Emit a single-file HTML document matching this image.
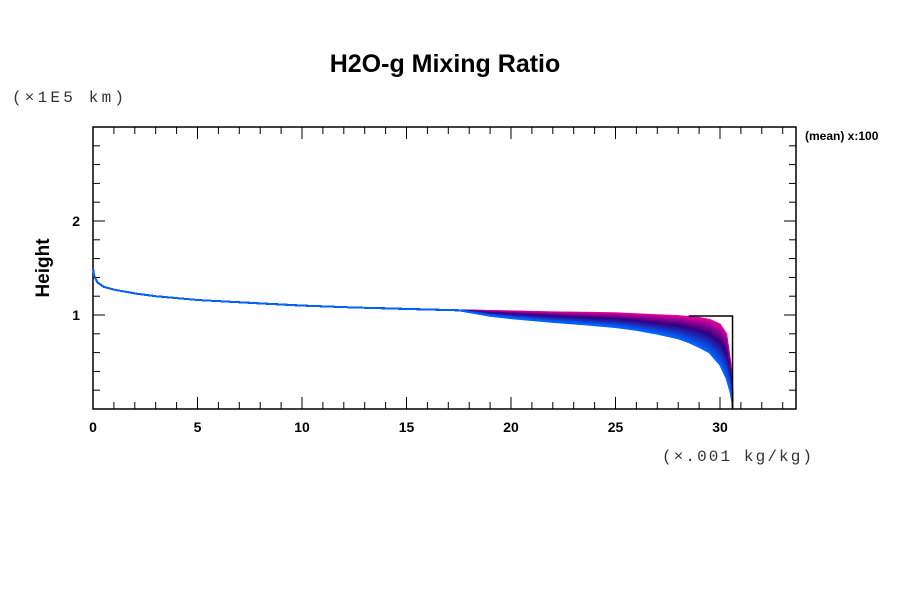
<!DOCTYPE html>
<html><head><meta charset="utf-8"><style>
body{margin:0;background:#fff;width:900px;height:600px;overflow:hidden}
svg{display:block}
text{font-family:"Liberation Sans",sans-serif}
text.mono{font-family:"Liberation Mono",monospace}
</style></head><body>
<svg id="chart" width="900" height="600">
<text x="445" y="72" text-anchor="middle" font-size="25" font-weight="bold">H2O-g Mixing Ratio</text>
<text class="mono" x="12" y="102" font-size="16" letter-spacing="3.2" fill="#333">(×1E5 km)</text>
<text class="mono" x="662" y="461" font-size="16" letter-spacing="2.1" fill="#333">(×.001 kg/kg)</text>
<text transform="translate(49,268) rotate(-90)" text-anchor="middle" font-size="19" font-weight="bold">Height</text>
<text x="805" y="140" font-size="12" font-weight="bold">(mean) x:100</text>
<g id="axes"></g>
<g id="series"></g>
</svg>
<script>
const xTicks=[0,5,10,15,20,25,30];
const yTicks=[1,2];
const xs=[0,0.05,0.2,0.5,1,2,3,5,7.5,10,12.5,15,17.5,18,19,20,21,22,23.5,25,26,27,28,28.5,29,29.5,30,30.3,30.5,30.6,30.6];
const upperH=[1.5,1.42,1.35,1.3,1.27,1.23,1.2,1.16,1.13,1.1,1.08,1.065,1.05,1.05,1.045,1.04,1.035,1.03,1.025,1.02,1.01,1.0,0.99,0.98,0.97,0.95,0.9,0.8,0.5,0.2,0];
const lowerH=[1.5,1.42,1.35,1.3,1.27,1.23,1.2,1.16,1.13,1.1,1.08,1.065,1.05,1.03,0.99,0.965,0.945,0.925,0.9,0.87,0.84,0.8,0.75,0.71,0.66,0.6,0.47,0.33,0.18,0.06,0];
const refX=[28.5,30.6,30.6];
const refH=[0.99,0.99,0];
const X=v=>93+v*20.9, Y=v=>409-v*94;
const ns="http://www.w3.org/2000/svg";
const ax=document.getElementById('axes'), sg=document.getElementById('series');
function mk(p,tag,at){const e=document.createElementNS(ns,tag);for(const k in at)e.setAttribute(k,at[k]);p.appendChild(e);return e;}
const fr=mk(ax,'rect',{x:93,y:127,width:703,height:282,fill:'none',stroke:'#000','stroke-width':1.5});


for(let i=0;i<=33;i++){const x=X(i),L=i%5==0?12:7;
 mk(ax,'line',{x1:x,y1:409,x2:x,y2:409-L,stroke:'#000'});mk(ax,'line',{x1:x,y1:127,x2:x,y2:127+L,stroke:'#000'});}
for(let j=1;j<15;j++){const v=j*0.2,y=Y(v),L=j%5==0?12:7;
 mk(ax,'line',{x1:93,y1:y,x2:93+L,y2:y,stroke:'#000'});mk(ax,'line',{x1:796,y1:y,x2:796-L,y2:y,stroke:'#000'});}
xTicks.forEach(t=>{const e=mk(ax,'text',{x:X(t),y:432,'text-anchor':'middle','font-size':14,'font-weight':'bold'});e.textContent=t;

});
yTicks.forEach(t=>{const e=mk(ax,'text',{x:80,y:Y(t)+5,'text-anchor':'end','font-size':14,'font-weight':'bold'});e.textContent=t;

});
function lerpC(a,b,t){return 'rgb('+a.map((v,i)=>Math.round(v+(b[i]-v)*t)).join(',')+')';}
const N=40;
for(let k=0;k<=N;k++){const t=k/N;
 const col=t<0.45?lerpC([230,0,160],[50,0,130],t/0.45):lerpC([50,0,130],[0,100,255],(t-0.45)/0.55);
 const pts=xs.map((x,i)=>X(x).toFixed(1)+','+Y(upperH[i]+(lowerH[i]-upperH[i])*t).toFixed(1)).join(' ');
 const p=mk(sg,'polyline',{points:pts,fill:'none',stroke:col,'stroke-width':1.6});
 
 }
const r=mk(sg,'polyline',{points:refX.map((x,i)=>X(x)+','+Y(refH[i])).join(' '),fill:'none',stroke:'#000','stroke-width':1.5});


</script>
</body></html>
